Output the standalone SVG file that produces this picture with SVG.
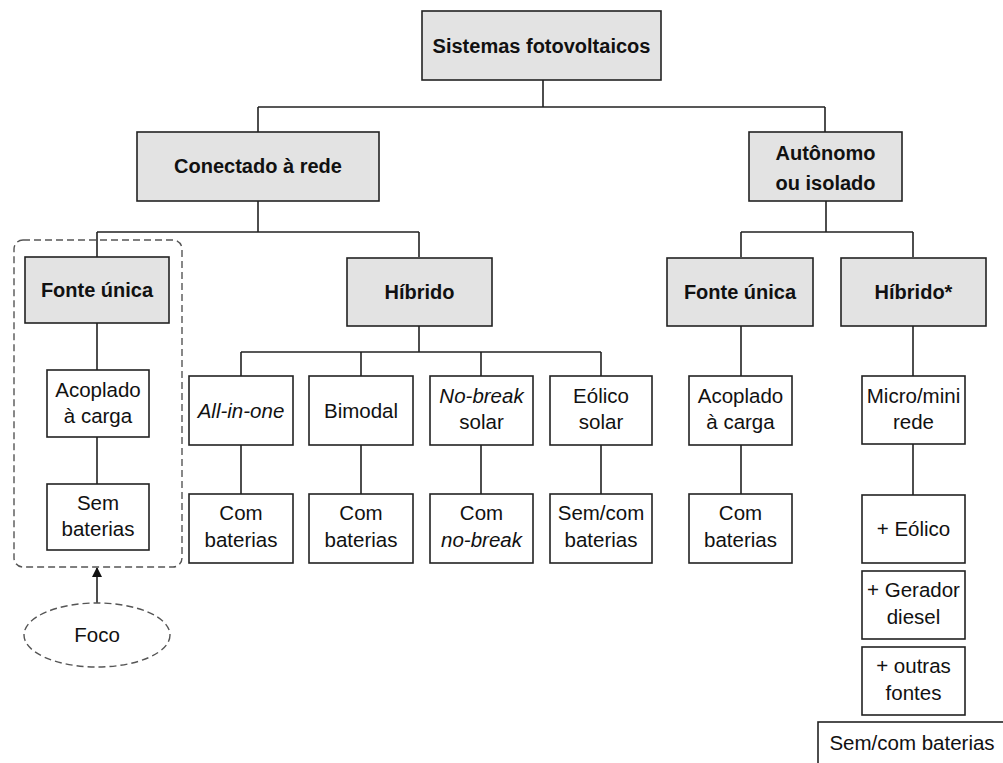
<svg xmlns="http://www.w3.org/2000/svg" width="1003" height="763" viewBox="0 0 1003 763">
<style>
.hd{fill:#e3e3e3;stroke:#222;stroke-width:1.6}
.bx{fill:#fff;stroke:#222;stroke-width:1.6}
.tb{font-family:"Liberation Sans",Arial,sans-serif;font-size:20px;font-weight:bold;fill:#111;text-anchor:middle}
.tr{font-family:"Liberation Sans",Arial,sans-serif;font-size:20.5px;fill:#111;text-anchor:middle}
.it{font-style:italic}
.ln{fill:none;stroke:#222;stroke-width:1.6}
.dash{fill:none;stroke:#555;stroke-width:1.4;stroke-dasharray:7 4}
</style>
<defs>
<marker id="ah" markerWidth="10" markerHeight="10" refX="9" refY="5" orient="auto" markerUnits="userSpaceOnUse">
<path d="M0,0 L10,5 L0,10 Z" fill="#111"/>
</marker>
</defs>
<rect width="1003" height="763" fill="#fff"/>
<g id="connectors">
<path class="ln" d="M543,80 V107 M258,107 H825 M258,107 V132 M825,107 V132"/>
<path class="ln" d="M258,201 V232 M97,232 H419 M97,232 V257 M419,232 V257"/>
<path class="ln" d="M826,201 V232 M741,232 H913 M741,232 V257 M913,232 V257"/>
<path class="ln" d="M97,323 V370 M97,437 V484"/>
<path class="ln" d="M419,324 V352 M241,352 H601 M241,352 V376 M361,352 V376 M481,352 V376 M601,352 V376"/>
<path class="ln" d="M241,445 V494 M361,445 V494 M481,445 V494 M601,445 V494"/>
<path class="ln" d="M741,324 V376 M741,445 V494"/>
<path class="ln" d="M913,324 V376 M913,444 V495"/>
<line class="ln" x1="97" y1="603" x2="97" y2="568" marker-end="url(#ah)"/>
</g>
<g id="focus-area"><rect class="dash" x="14" y="240" width="168" height="327" rx="9"/></g>
<g id="n-sistemas"><rect class="hd" x="422" y="11" width="239" height="69"/><text class="tb" x="541.5" y="53">Sistemas fotovoltaicos</text></g>
<g id="n-conectado"><rect class="hd" x="137" y="132" width="242" height="69"/><text class="tb" x="258" y="173">Conectado à rede</text></g>
<g id="n-autonomo"><rect class="hd" x="749" y="132" width="153" height="69"/><text class="tb" x="825.5" y="160">Autônomo</text><text class="tb" x="825.5" y="190">ou isolado</text></g>
<g id="n-fonte1"><rect class="hd" x="25" y="257" width="144" height="66"/><text class="tb" x="97" y="297">Fonte única</text></g>
<g id="n-hibrido1"><rect class="hd" x="347" y="258" width="145" height="68"/><text class="tb" x="419.5" y="299">Híbrido</text></g>
<g id="n-fonte2"><rect class="hd" x="667" y="258" width="146" height="68"/><text class="tb" x="740" y="299">Fonte única</text></g>
<g id="n-hibrido2"><rect class="hd" x="841" y="258" width="145" height="68"/><text class="tb" x="913.5" y="299">Híbrido*</text></g>
<g id="n-acoplado1"><rect class="bx" x="47" y="370" width="102" height="67"/><text class="tr" x="98" y="397">Acoplado</text><text class="tr" x="98" y="423">à carga</text></g>
<g id="n-sem1"><rect class="bx" x="47" y="484" width="102" height="66"/><text class="tr" x="98" y="510">Sem</text><text class="tr" x="98" y="536">baterias</text></g>
<g id="n-foco"><ellipse class="dash" cx="97" cy="635" rx="73" ry="32"/><text class="tr" x="97" y="642">Foco</text></g>
<g id="n-allinone"><rect class="bx" x="189" y="376" width="104" height="69"/><text class="tr it" x="241" y="418">All-in-one</text></g>
<g id="n-bimodal"><rect class="bx" x="309" y="376" width="104" height="69"/><text class="tr" x="361" y="418">Bimodal</text></g>
<g id="n-nobreak"><rect class="bx" x="430" y="376" width="103" height="69"/><text class="tr it" x="481.5" y="403">No-break</text><text class="tr" x="481.5" y="429">solar</text></g>
<g id="n-eolico"><rect class="bx" x="550" y="376" width="102" height="69"/><text class="tr" x="601" y="403">Eólico</text><text class="tr" x="601" y="429">solar</text></g>
<g id="n-com1"><rect class="bx" x="189" y="494" width="104" height="69"/><text class="tr" x="241" y="520">Com</text><text class="tr" x="241" y="547">baterias</text></g>
<g id="n-com2"><rect class="bx" x="309" y="494" width="104" height="69"/><text class="tr" x="361" y="520">Com</text><text class="tr" x="361" y="547">baterias</text></g>
<g id="n-com3"><rect class="bx" x="430" y="494" width="103" height="69"/><text class="tr" x="481.5" y="520">Com</text><text class="tr it" x="481.5" y="547">no-break</text></g>
<g id="n-semcom1"><rect class="bx" x="550" y="494" width="102" height="69"/><text class="tr" x="601" y="520">Sem/com</text><text class="tr" x="601" y="547">baterias</text></g>
<g id="n-acoplado2"><rect class="bx" x="689" y="376" width="103" height="69"/><text class="tr" x="740.5" y="403">Acoplado</text><text class="tr" x="740.5" y="429">à carga</text></g>
<g id="n-com4"><rect class="bx" x="689" y="494" width="103" height="69"/><text class="tr" x="740.5" y="520">Com</text><text class="tr" x="740.5" y="547">baterias</text></g>
<g id="n-micro"><rect class="bx" x="862" y="376" width="103" height="68"/><text class="tr" x="913.5" y="403">Micro/mini</text><text class="tr" x="913.5" y="429">rede</text></g>
<g id="n-maiseolico"><rect class="bx" x="862" y="495" width="103" height="68"/><text class="tr" x="913.5" y="536">+ Eólico</text></g>
<g id="n-gerador"><rect class="bx" x="862" y="571" width="103" height="68"/><text class="tr" x="913.5" y="597">+ Gerador</text><text class="tr" x="913.5" y="624">diesel</text></g>
<g id="n-outras"><rect class="bx" x="862" y="647" width="103" height="68"/><text class="tr" x="913.5" y="673">+ outras</text><text class="tr" x="913.5" y="700">fontes</text></g>
<g id="n-semcom2"><rect class="bx" x="818" y="722" width="190" height="50"/><text class="tr" x="912" y="750">Sem/com baterias</text></g>
</svg>
